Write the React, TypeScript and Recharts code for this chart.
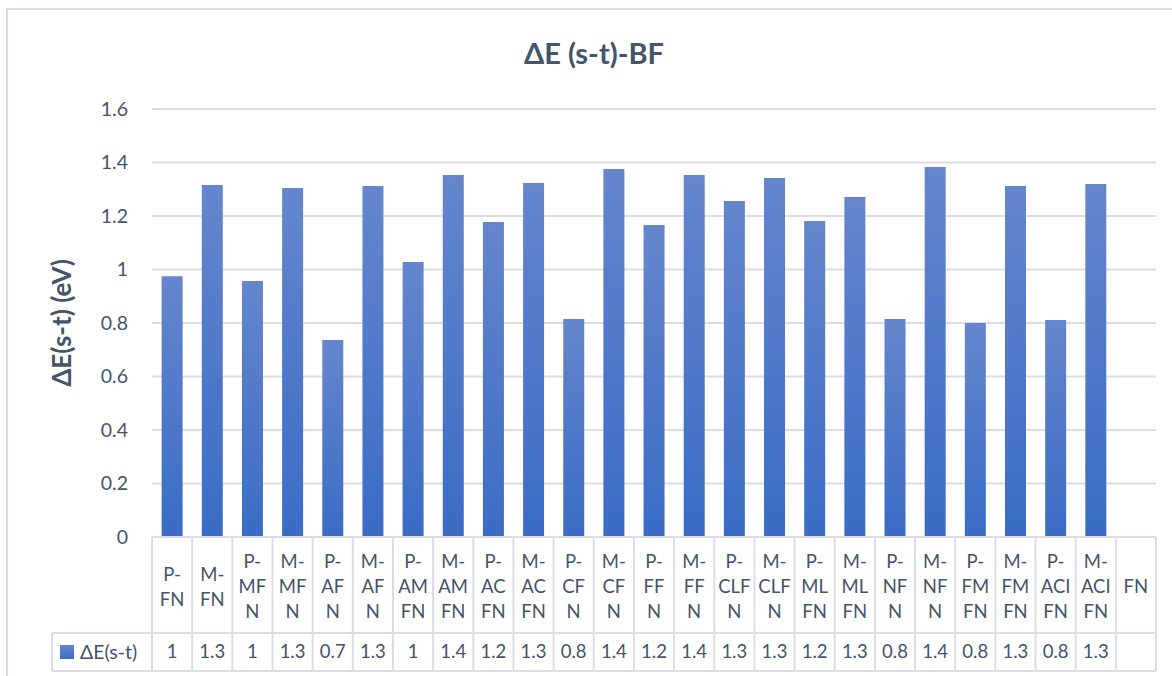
import { BarChart, Bar, XAxis, YAxis, CartesianGrid } from "recharts";

const categories = [
  "P-FN", "M-FN", "P-MFN", "M-MFN", "P-AFN", "M-AFN", "P-AMFN", "M-AMFN",
  "P-ACFN", "M-ACFN", "P-CFN", "M-CFN", "P-FFN", "M-FFN", "P-CLFN", "M-CLFN",
  "P-MLFN", "M-MLFN", "P-NFN", "M-NFN", "P-FMFN", "M-FMFN", "P-ACIFN", "M-ACIFN", "FN",
];

// wrapped tick labels, as they appear in the data table
const tickLines = [
  ["P-", "FN"], ["M-", "FN"], ["P-", "MF", "N"], ["M-", "MF", "N"], ["P-", "AF", "N"],
  ["M-", "AF", "N"], ["P-", "AM", "FN"], ["M-", "AM", "FN"], ["P-", "AC", "FN"], ["M-", "AC", "FN"],
  ["P-", "CF", "N"], ["M-", "CF", "N"], ["P-", "FF", "N"], ["M-", "FF", "N"], ["P-", "CLF", "N"],
  ["M-", "CLF", "N"], ["P-", "ML", "FN"], ["M-", "ML", "FN"], ["P-", "NF", "N"], ["M-", "NF", "N"],
  ["P-", "FM", "FN"], ["M-", "FM", "FN"], ["P-", "ACI", "FN"], ["M-", "ACI", "FN"], ["FN"],
];

const deltaE = [
  0.975, 1.316, 0.957, 1.305, 0.736, 1.312, 1.028, 1.353, 1.178, 1.323, 0.815, 1.376,
  1.166, 1.353, 1.256, 1.342, 1.181, 1.271, 0.815, 1.383, 0.8, 1.312, 0.811, 1.32, null,
];

const tableValues = [
  "1", "1.3", "1", "1.3", "0.7", "1.3", "1", "1.4", "1.2", "1.3", "0.8", "1.4",
  "1.2", "1.4", "1.3", "1.3", "1.2", "1.3", "0.8", "1.4", "0.8", "1.3", "0.8", "1.3", "",
];

const yTicks = [0, 0.2, 0.4, 0.6, 0.8, 1, 1.2, 1.4, 1.6];

const seriesName = "ΔE(s-t)";

const data = categories.map((name, i) => ({ name, value: deltaE[i] }));

const W = 1172;
const H = 676;
const Y_AXIS_W = 152;
const MARGIN = { top: 109, right: 16, bottom: 0, left: 0 };
const X_AXIS_H = 139;
const bandW = (W - Y_AXIS_W - MARGIN.left - MARGIN.right) / categories.length;

const TEXT = "#44546a";
const LINE = "#dadee4";
const FONT = "Lato, 'Open Sans', sans-serif";

const HEAD_H = 96;
const ROW_H = 38;
const LEGEND_W = 100;

function TableTick(props: any) {
  const { x, y, index } = props;
  const left = x - bandW / 2;
  const right = x + bandW / 2;
  const lines = tickLines[index] || [];
  const lh = 25;
  const cy = y + HEAD_H / 2 + 2;
  const first = cy - ((lines.length - 1) * lh) / 2;
  return (
    <g>
      {index === 0 && (
        <g>
          <line x1={left} y1={y} x2={left} y2={y + HEAD_H + ROW_H} stroke={LINE} strokeWidth={2} />
          <line x1={left - LEGEND_W} y1={y + HEAD_H} x2={left} y2={y + HEAD_H} stroke={LINE} strokeWidth={2} />
          <line x1={left - LEGEND_W} y1={y + HEAD_H + ROW_H} x2={left} y2={y + HEAD_H + ROW_H} stroke={LINE} strokeWidth={2} />
          <line x1={left - LEGEND_W} y1={y + HEAD_H} x2={left - LEGEND_W} y2={y + HEAD_H + ROW_H} stroke={LINE} strokeWidth={2} />
          <rect x={left - LEGEND_W + 8} y={y + HEAD_H + ROW_H / 2 - 7} width={14} height={14} fill="url(#barGrad)" />
          <text x={left - LEGEND_W + 28} y={y + HEAD_H + ROW_H / 2} dy="0.35em" fontSize={19.5} fill={TEXT} fontFamily={FONT}>
            {seriesName}
          </text>
        </g>
      )}
      <line x1={right} y1={y} x2={right} y2={y + HEAD_H + ROW_H} stroke={LINE} strokeWidth={2} />
      <line x1={left} y1={y + HEAD_H} x2={right} y2={y + HEAD_H} stroke={LINE} strokeWidth={2} />
      <line x1={left} y1={y + HEAD_H + ROW_H} x2={right} y2={y + HEAD_H + ROW_H} stroke={LINE} strokeWidth={2} />
      {lines.map((t, i) => (
        <text key={i} x={x} y={first + i * lh} dy="0.35em" textAnchor="middle" fontSize={18.5} fill={TEXT} fontFamily={FONT}>
          {t}
        </text>
      ))}
      <text x={x} y={y + HEAD_H + ROW_H / 2} dy="0.35em" textAnchor="middle" fontSize={18.5} fill={TEXT} fontFamily={FONT}>
        {tableValues[index]}
      </text>
    </g>
  );
}

function YLabel(props: any) {
  const vb = props.viewBox || {};
  const cx = 61;
  const cy = vb.y + vb.height / 2;
  return (
    <text
      x={cx}
      y={cy}
      transform={`rotate(-90, ${cx}, ${cy})`}
      textAnchor="middle"
      dominantBaseline="central"
      fontSize={26}
      fontWeight={700}
      fill={TEXT}
      fontFamily={FONT}
    >
      ΔE(s-t) (eV)
    </text>
  );
}

export default function App() {
  return (
    <div style={{ position: "absolute", left: 0, top: 0, width: W, height: H, overflow: "hidden", background: "#fff" }}>
      <div
        style={{
          position: "absolute",
          left: 6,
          top: 8,
          width: W + 40,
          height: H + 40,
          borderLeft: `2px solid ${LINE}`,
          borderTop: `2px solid ${LINE}`,
        }}
      />
      <div
        style={{
          position: "absolute",
          left: 0,
          top: 38,
          width: 1188,
          textAlign: "center",
          fontFamily: FONT,
          fontWeight: 700,
          fontSize: 29,
          lineHeight: "29px",
          color: TEXT,
        }}
      >
        ΔE (s-t)-BF
      </div>
      <div style={{ position: "absolute", left: 0, top: 0 }}>
        <BarChart width={W} height={H} data={data} margin={MARGIN} barCategoryGap="24%">
          <defs>
            <linearGradient id="barGrad" x1="0" y1="0" x2="0" y2="1">
              <stop offset="0%" stopColor="#6586cd" />
              <stop offset="100%" stopColor="#3a6cc6" />
            </linearGradient>
          </defs>
          <CartesianGrid vertical={false} stroke={LINE} strokeWidth={2} />
          <YAxis
            width={Y_AXIS_W}
            domain={[0, 1.6]}
            ticks={yTicks}
            interval={0}
            axisLine={false}
            tickLine={false}
            tickSize={0}
            tickMargin={24}
            tickFormatter={(v: number) => String(v)}
            tick={{ fill: TEXT, fontSize: 19.5, fontFamily: FONT }}
            label={<YLabel />}
          />
          <XAxis
            dataKey="name"
            height={X_AXIS_H}
            interval={0}
            tickLine={false}
            tickSize={0}
            tickMargin={0}
            axisLine={{ stroke: LINE, strokeWidth: 2 }}
            tick={<TableTick />}
          />
          <Bar dataKey="value" fill="url(#barGrad)" isAnimationActive={false} />
        </BarChart>
      </div>
    </div>
  );
}
